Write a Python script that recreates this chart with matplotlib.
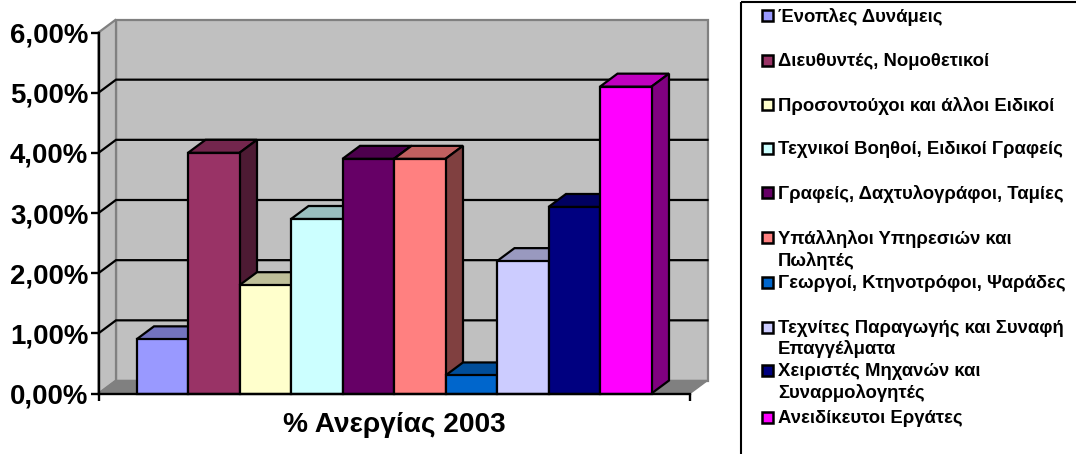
import matplotlib
matplotlib.use('Agg')
import matplotlib.pyplot as plt
from matplotlib.colors import to_rgb
from matplotlib.patches import Rectangle

plt.rcParams['font.family'] = ['Liberation Sans', 'DejaVu Sans']
plt.rcParams['font.weight'] = 'bold'

# data
labels = ['Ένοπλες Δυνάμεις', 'Διευθυντές, Νομοθετικοί', 'Προσοντούχοι και άλλοι Ειδικοί',
          'Τεχνικοί Βοηθοί, Ειδικοί Γραφείς', 'Γραφείς, Δαχτυλογράφοι, Ταμίες',
          'Υπάλληλοι Υπηρεσιών και\nΠωλητές', 'Γεωργοί, Κτηνοτρόφοι, Ψαράδες',
          'Τεχνίτες Παραγωγής και Συναφή\nΕπαγγέλματα', 'Χειριστές Μηχανών και\nΣυναρμολογητές',
          'Ανειδίκευτοι Εργάτες']
values = [0.9, 4.0, 1.8, 2.9, 3.9, 3.9, 0.3, 2.2, 3.1, 5.1]
colors = ['#9999FF', '#993366', '#FFFFCC', '#CCFFFF', '#660066',
          '#FF8080', '#0066CC', '#CCCCFF', '#000080', '#FF00FF']
yticks = [0, 1, 2, 3, 4, 5, 6]
ytick_labels = ['0,00%', '1,00%', '2,00%', '3,00%', '4,00%', '5,00%', '6,00%']
xlabel = '% Ανεργίας 2003'

W, H = 1076, 454
fig = plt.figure(figsize=(W / 100, H / 100), dpi=100)

# chart area in pixels
left, right, top, bottom = 98.5, 690, 32.5, 393.5
ax = fig.add_axes([left / W, 1 - bottom / H, (right - left) / W, (bottom - top) / H])

bar_w = 51.5
first = 136.5
x0 = (left - first) / bar_w
x1 = (right - first) / bar_w
ax.set_xlim(x0, x1)
ax.set_ylim(0, 6)
dx = 17.5 / bar_w
dy = 13 / ((bottom - top) / 6)

# walls and floor
ax.fill([x0 + dx, x1 + dx, x1 + dx, x0 + dx], [dy, dy, 6 + dy, 6 + dy],
        fc='#C0C0C0', ec='#808080', lw=1.6, clip_on=False, zorder=1)
ax.fill([x0, x0 + dx, x0 + dx, x0], [0, dy, 6 + dy, 6],
        fc='#C0C0C0', ec='#808080', lw=1.6, clip_on=False, zorder=1)
ax.fill([x0, x1, x1 + dx, x0 + dx], [0, 0, dy, dy],
        fc='#808080', ec='#808080', lw=1, clip_on=False, zorder=1)

# gridlines
for t in yticks[1:-1]:
    ax.plot([x0, x0 + dx, x1 + dx], [t, t + dy, t + dy], color='black', lw=1.6,
            clip_on=False, zorder=2, solid_joinstyle='miter')

# bars, painted left to right so each one covers the side of the previous
def shade(c, f):
    return tuple(v * f for v in to_rgb(c))

z = 3
for i, (v, c) in enumerate(zip(values, colors)):
    ax.fill([i, i + dx, i + 1 + dx, i + 1], [v, v + dy, v + dy, v],
            fc=shade(c, 0.75), ec='black', lw=1.6, clip_on=False, zorder=z)
    ax.fill([i + 1, i + 1 + dx, i + 1 + dx, i + 1], [0, dy, v + dy, v],
            fc=shade(c, 0.5), ec='black', lw=1.6, clip_on=False, zorder=z)
    ax.fill([i, i + 1, i + 1, i], [0, 0, v, v],
            fc=c, ec='black', lw=1.6, clip_on=False, zorder=z)
    z += 1

for s in ['top', 'right']:
    ax.spines[s].set_visible(False)
for s in ['left', 'bottom']:
    ax.spines[s].set_linewidth(1.7)
    ax.spines[s].set_zorder(50)
ax.patch.set_visible(False)

ax.set_yticks(yticks)
ax.set_yticklabels(ytick_labels, fontsize=19.9, fontweight='bold')
ax.set_xticks([x0, x1])
ax.set_xticklabels(['', ''])
ax.tick_params(axis='y', length=5.8, width=1.7, pad=1.5)
ax.tick_params(axis='x', length=5, width=1.7)

# overlay in pixel coordinates for the title and legend
ov = fig.add_axes([0, 0, 1, 1])
ov.set_xlim(0, W)
ov.set_ylim(H, 0)
ov.axis('off')
ov.patch.set_visible(False)

ov.text(394, 424.5, xlabel, fontsize=20.2, fontweight='bold', ha='center', va='center')

ov.add_patch(Rectangle((741, 2), 400, 500, fc='none', ec='black', lw=1.5))
legend_y = [16, 61, 105, 149, 193, 238, 283, 328, 371, 418]
for lab, c, y in zip(labels, colors, legend_y):
    ov.add_patch(Rectangle((761.5, y - 6), 11, 11, fc=c, ec='black', lw=1.8))
    ov.text(778, y - 8, lab, fontsize=13.3, fontweight='bold', ha='left', va='top',
            linespacing=1.25)

fig.savefig('out.png', dpi=100)
